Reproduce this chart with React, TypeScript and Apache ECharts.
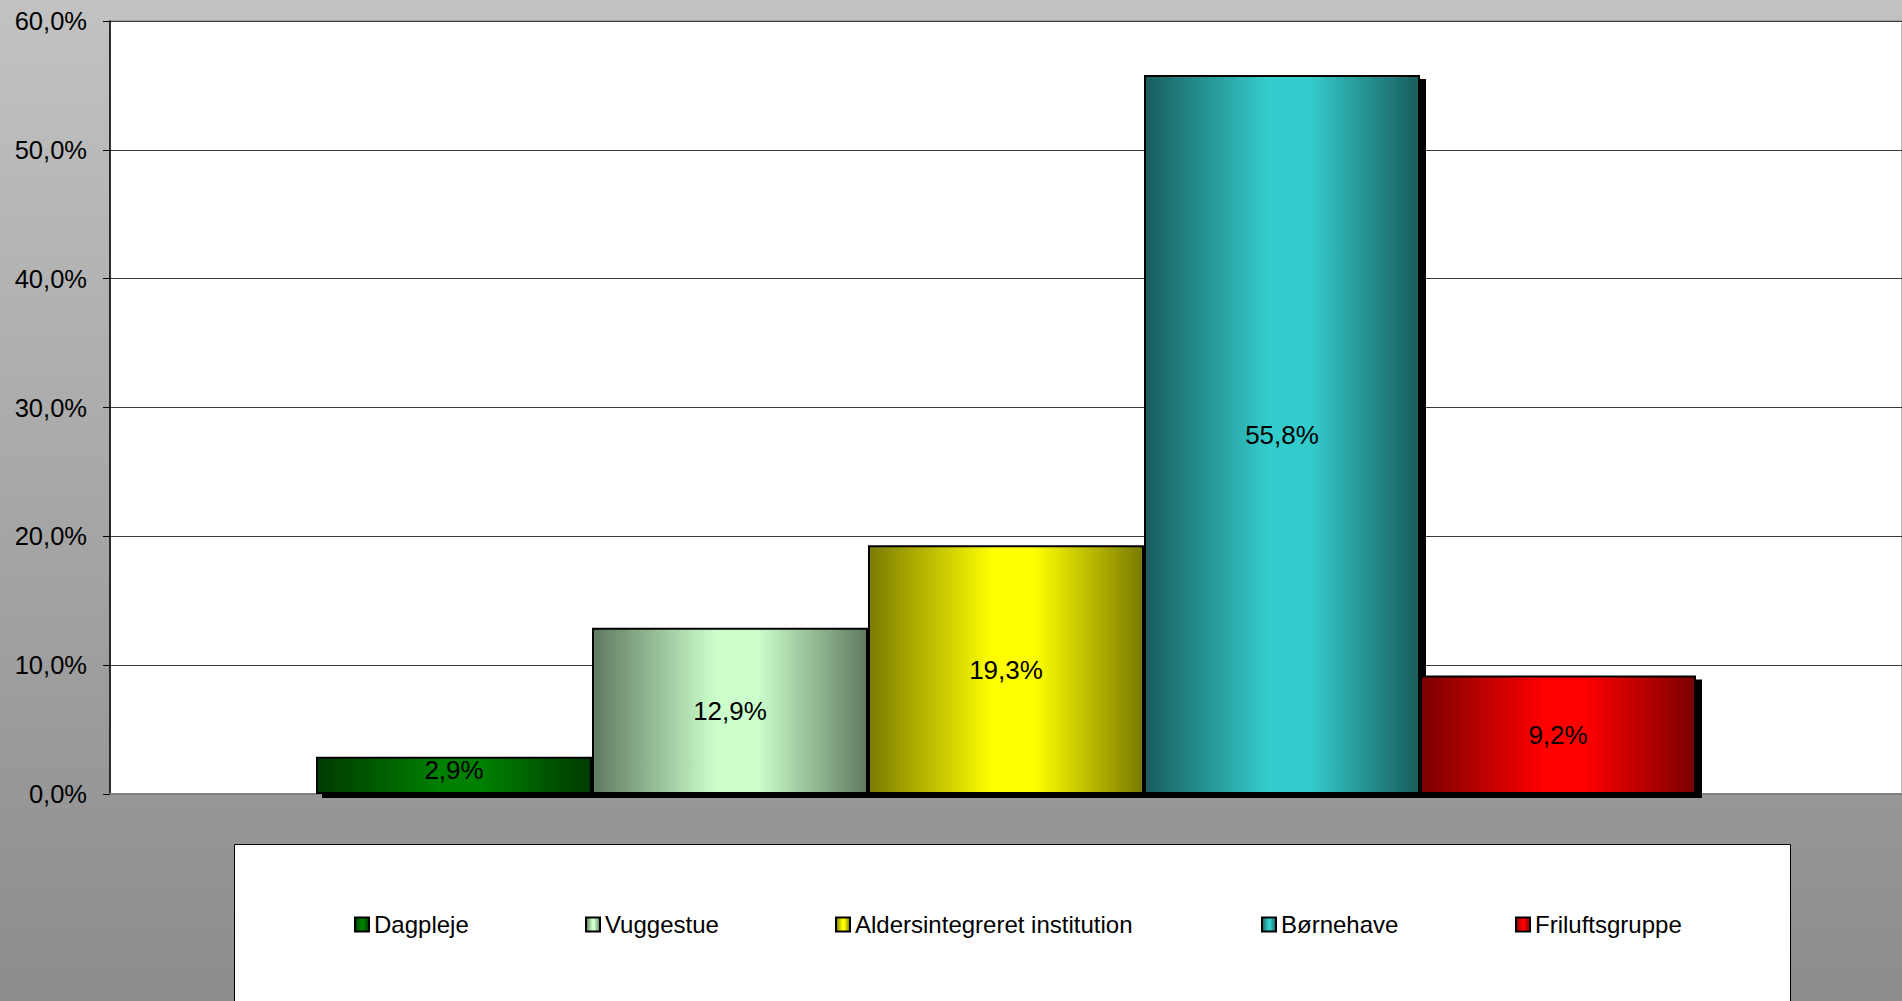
import React, { useEffect, useRef } from "react";
import * as echarts from "echarts";

const categories = [""];
const seriesNames = ["Dagpleje", "Vuggestue", "Aldersintegreret institution", "Børnehave", "Friluftsgruppe"];
const seriesValues = [2.9, 12.9, 19.3, 55.8, 9.2];
const edgeColors = ["#003a00", "#5f7a5f", "#7a7a00", "#1a5c5c", "#7a0000"];
const centerColors = ["#008000", "#ccffcc", "#ffff00", "#33cccc", "#ff0000"];
const legendLeft = [354, 585, 835, 1261, 1515];
const yTicks = [0, 10, 20, 30, 40, 50, 60];

const FONT = "'Liberation Sans', Arial, sans-serif";

const fmt = (v: number) => v.toFixed(1).replace(".", ",") + "%";

export default function App() {
  const ref = useRef<HTMLDivElement>(null);
  useEffect(() => {
    if (!ref.current) return;
    const chart = echarts.init(ref.current, undefined, { renderer: "svg" });
    const grad = (i: number) => ({
      type: "linear",
      x: 0,
      y: 0,
      x2: 1,
      y2: 0,
      colorStops: [
        { offset: 0, color: edgeColors[i] },
        { offset: 0.45, color: centerColors[i] },
        { offset: 0.6, color: centerColors[i] },
        { offset: 1, color: edgeColors[i] },
      ],
    });
    const option: any = {
      animation: false,
      backgroundColor: {
        type: "linear",
        x: 0,
        y: 0,
        x2: 0,
        y2: 1,
        colorStops: [
          { offset: 0, color: "#c2c2c2" },
          { offset: 1, color: "#8c8c8c" },
        ],
      },
      textStyle: { fontFamily: FONT },
      grid: {
        left: 110,
        right: 0,
        top: 21,
        bottom: 207,
        show: true,
        backgroundColor: "#ffffff",
        borderColor: "#808080",
        borderWidth: 1,
      },
      graphic: [
        {
          type: "rect",
          left: 234,
          top: 844,
          shape: { width: 1556, height: 200 },
          style: { fill: "#ffffff", stroke: "#000000", lineWidth: 1 },
          z: -1,
        },
      ],
      legend: seriesNames.map((n, i) => ({
        data: [n],
        left: legendLeft[i],
        top: 912,
        padding: 0,
        itemWidth: 14,
        itemHeight: 14,
        itemGap: 0,
        icon: "rect",
        selectedMode: false,
        itemStyle: {
          borderColor: "#000",
          borderWidth: 2,
          shadowColor: "transparent",
          shadowBlur: 0,
          shadowOffsetX: 0,
          shadowOffsetY: 0,
        },
        textStyle: {
          fontFamily: FONT,
          fontSize: 24,
          color: "#000",
          lineHeight: 25,
          padding: [0, 0, 0, 0],
        },
      })),
      xAxis: {
        type: "category",
        data: categories,
        axisLine: { show: true, lineStyle: { color: "#808080", width: 2 } },
        axisTick: { show: false },
        axisLabel: { show: false },
        splitLine: { show: false },
      },
      yAxis: {
        type: "value",
        min: 0,
        max: 60,
        interval: 10,
        axisLine: { show: true, lineStyle: { color: "#000", width: 1.5 } },
        axisTick: { show: true, length: 7, lineStyle: { color: "#000", width: 1 } },
        axisLabel: {
          margin: 23,
          fontSize: 25.5,
          color: "#000",
          fontFamily: FONT,
          formatter: (v: number) => (yTicks.includes(v) ? fmt(v) : ""),
        },
        splitLine: { show: true, lineStyle: { color: "#3a3a3a", width: 1 } },
      },
      series: seriesNames.map((n, i) => ({
        name: n,
        type: "bar",
        data: [seriesValues[i]],
        barGap: "0%",
        barWidth: 276,
        itemStyle: {
          color: grad(i),
          borderColor: "#000",
          borderWidth: 2,
          shadowColor: "#000",
          shadowBlur: 0,
          shadowOffsetX: 6,
          shadowOffsetY: 4,
        },
        label: {
          show: true,
          position: "inside",
          fontSize: 26,
          color: "#000",
          fontFamily: FONT,
          offset: i === 0 ? [0, -5] : [0, 0],
          formatter: (p: any) => fmt(p.value),
        },
        emphasis: { disabled: true },
      })),
    };
    chart.setOption(option);
    return () => chart.dispose();
  }, []);
  return (
    <div
      ref={ref}
      style={{ position: "absolute", left: 0, top: 0, width: 1902, height: 1001 }}
    />
  );
}
